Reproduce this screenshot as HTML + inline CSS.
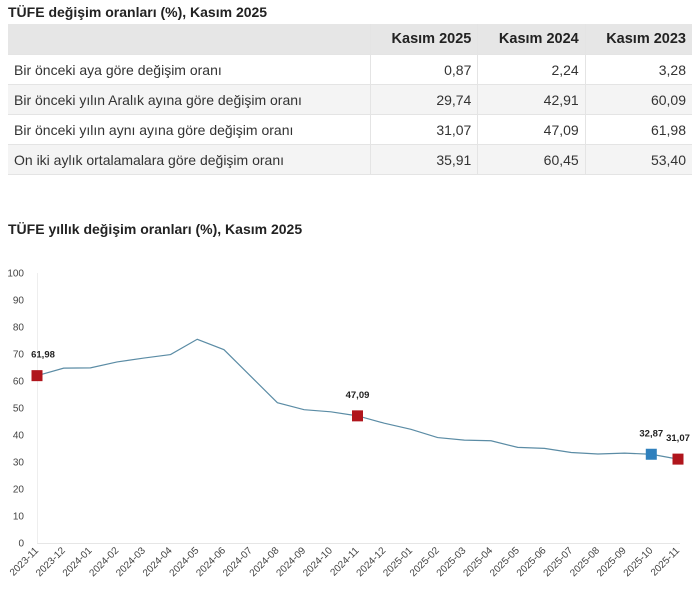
<!DOCTYPE html>
<html><head><meta charset="utf-8"><style>
body{margin:0;width:700px;height:597px;background:#fff;font-family:"Liberation Sans",sans-serif;overflow:hidden;position:relative}
.t{position:absolute;font-weight:bold;font-size:14px;color:#222}
table{position:absolute;left:8px;top:24px;width:684px;border-collapse:collapse;font-size:14px;color:#333}
td,th{height:29px;padding:0 6px;border-bottom:1px solid #e4e4e4;border-right:1px solid #e4e4e4}
th{background:#e6e6e6;font-weight:bold;text-align:right;color:#222;height:30px;font-size:14.5px}
td{text-align:right}
td:first-child{text-align:left}
tr:nth-child(odd) td{background:#f4f4f4}
td:last-child,th:last-child{border-right:none}
</style></head><body>
<div class="t" style="left:8px;top:4px">TÜFE değişim oranları (%), Kasım 2025</div>
<table>
<tr><th style="width:350px"></th><th>Kasım 2025</th><th>Kasım 2024</th><th>Kasım 2023</th></tr>
<tr><td>Bir önceki aya göre değişim oranı</td><td>0,87</td><td>2,24</td><td>3,28</td></tr>
<tr><td>Bir önceki yılın Aralık ayına göre değişim oranı</td><td>29,74</td><td>42,91</td><td>60,09</td></tr>
<tr><td>Bir önceki yılın aynı ayına göre değişim oranı</td><td>31,07</td><td>47,09</td><td>61,98</td></tr>
<tr><td>On iki aylık ortalamalara göre değişim oranı</td><td>35,91</td><td>60,45</td><td>53,40</td></tr>
</table>
<div class="t" style="left:8px;top:221px">TÜFE yıllık değişim oranları (%), Kasım 2025</div>
<svg id="c" width="700" height="597" style="position:absolute;left:0;top:0"></svg>
<script>
const categories=["2023-11","2023-12","2024-01","2024-02","2024-03","2024-04","2024-05","2024-06","2024-07","2024-08","2024-09","2024-10","2024-11","2024-12","2025-01","2025-02","2025-03","2025-04","2025-05","2025-06","2025-07","2025-08","2025-09","2025-10","2025-11"];
const values=[61.98,64.77,64.86,67.07,68.5,69.8,75.45,71.6,61.78,51.97,49.38,48.58,47.09,44.38,42.12,39.05,38.10,37.86,35.41,35.05,33.52,32.95,33.29,32.87,31.07];
const yTicks=[0,10,20,30,40,50,60,70,80,90,100];
const redMarks=[0,12,24];
const blueMarks=[23];
const labels=["61,98","47,09","32,87","31,07"];
const labelIdx=[0,12,23,24];
const NS="http://www.w3.org/2000/svg",svg=document.getElementById('c');
const x=i=>37+i*(641/24), y=v=>543-v*2.7;
function mk(t,a){const e=document.createElementNS(NS,t);for(const k in a)e.setAttribute(k,a[k]);svg.appendChild(e);return e;}
let ax=mk('line',{x1:37,x2:680,y1:543.5,y2:543.5,stroke:'#e6e6e6','stroke-width':1});

let ay=mk('line',{x1:37.5,x2:37.5,y1:273,y2:543,stroke:'#eee','stroke-width':1});

yTicks.forEach(v=>{const t=mk('text',{x:24,y:y(v)+3.5,'text-anchor':'end','font-size':10,fill:'#444'});t.textContent=v;
});
categories.forEach((c,i)=>{const t=mk('text',{x:x(i)+2,y:551,'text-anchor':'end','font-size':10,fill:'#444',transform:`rotate(-45 ${x(i)+2} 551)`});t.textContent=c;
});
const ln=mk('polyline',{points:values.map((v,i)=>x(i)+','+y(v)).join(' '),fill:'none',stroke:'#5b8ca5','stroke-width':1.2});

redMarks.forEach(i=>{const r=mk('rect',{x:x(i)-5.5,y:y(values[i])-5.5,width:11,height:11,fill:'#b0151c'});
});
blueMarks.forEach(i=>{const r=mk('rect',{x:x(i)-5.5,y:y(values[i])-5.5,width:11,height:11,fill:'#2f80bd'});
});
labelIdx.forEach((i,k)=>{const t=mk('text',{x:x(i)+(i==0?6:0),y:y(values[i])-18,'text-anchor':'middle','font-size':9.5,'font-weight':'bold',fill:'#222'});t.textContent=labels[k];
});
</script>
</body></html>
